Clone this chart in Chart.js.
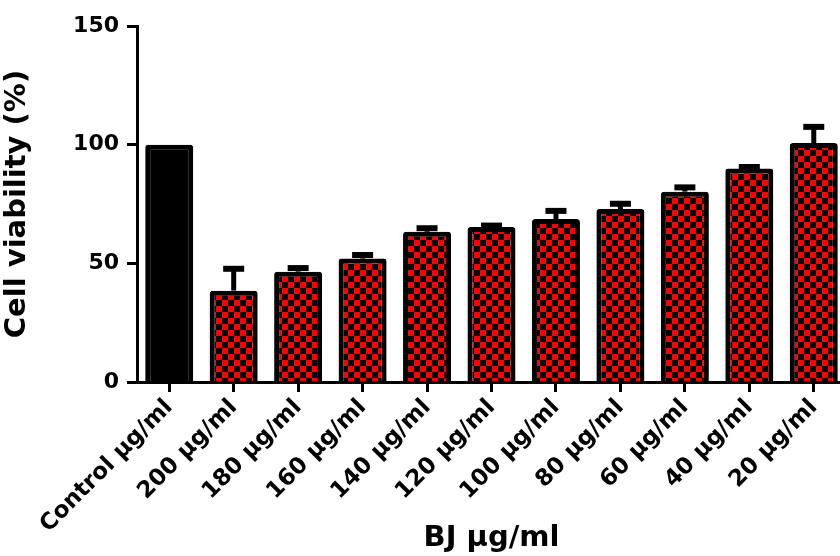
<!DOCTYPE html>
<html>
<head>
<meta charset="utf-8">
<script src="https://cdn.jsdelivr.net/npm/chart.js@4.4.1/dist/chart.umd.min.js"></script>
<style>
  html, body { margin: 0; padding: 0; background: #ffffff; overflow: hidden; }
  #wrap { width: 846px; height: 556px; position: relative; }
</style>
</head>
<body>
<div id="wrap"><canvas id="chart"></canvas></div>
<script>
// Treatment groups (BJ extract concentrations)
const categories = [
  'Control μg/ml', '200 μg/ml', '180 μg/ml', '160 μg/ml', '140 μg/ml',
  '120 μg/ml', '100 μg/ml', '80 μg/ml', '60 μg/ml', '40 μg/ml', '20 μg/ml'
];
// Mean cell viability (%) per group
const viability = [100, 38.5, 46.5, 52.0, 63.3, 65.3, 68.7, 72.9, 80.2, 90.0, 100.7];
// Upper error (SEM) per group
const sem = [0, 9.2, 1.5, 1.5, 1.5, 0.6, 3.4, 2.2, 1.8, 0.6, 6.8];
// Y-axis range and tick step
const yRange = [0, 150];
const yStep = 50;

const FONT = "'DejaVu Sans', 'Liberation Sans', Arial, sans-serif";

// Red/black checkerboard fill for the treated groups
function checkerPattern(size) {
  const c = document.createElement('canvas');
  c.width = size * 2;
  c.height = size * 2;
  const g = c.getContext('2d');
  g.fillStyle = '#ff0000';
  g.fillRect(0, 0, size * 2, size * 2);
  g.fillStyle = '#000000';
  g.fillRect(0, 0, size, size);
  g.fillRect(size, size, size, size);
  return g.createPattern(c, 'repeat');
}

const canvas = document.getElementById('chart');
const ctx = canvas.getContext('2d');
const checker = checkerPattern(6);
const fills = categories.map((_, i) => (i === 0 ? '#000000' : checker));

// Upward error bars with a flat cap
const errorBars = {
  id: 'errorBars',
  afterDatasetsDraw(chart) {
    const meta = chart.getDatasetMeta(0);
    const y = chart.scales.y;
    const c = chart.ctx;
    c.save();
    c.strokeStyle = '#000000';
    c.lineCap = 'butt';
    meta.data.forEach((bar, i) => {
      const e = sem[i];
      if (!e) return;
      const base = y.getPixelForValue(viability[i]);
      const top = y.getPixelForValue(viability[i] + e);
      c.lineWidth = 5;
      c.beginPath();
      c.moveTo(bar.x, base);
      c.lineTo(bar.x, top);
      c.stroke();
      c.lineWidth = 6;
      c.beginPath();
      c.moveTo(bar.x - 10.5, top);
      c.lineTo(bar.x + 10.5, top);
      c.stroke();
    });
    c.restore();
  }
};

new Chart(ctx, {
  type: 'bar',
  data: {
    labels: categories,
    datasets: [{
      data: viability,
      backgroundColor: fills,
      borderColor: '#000000',
      borderWidth: 5,
      borderRadius: 3,
      borderSkipped: 'start',
      barPercentage: 0.745,
      categoryPercentage: 1.0
    }]
  },
  options: {
    responsive: true,
    maintainAspectRatio: false,
    animation: false,
    devicePixelRatio: 1,
    layout: { padding: { top: 26, left: 0, right: 0, bottom: 0 } },
    plugins: {
      legend: { display: false },
      tooltip: { enabled: false }
    },
    scales: {
      x: {
        offset: true,
        grid: {
          offset: false,
          drawOnChartArea: false,
          drawTicks: true,
          tickLength: 10,
          tickWidth: 3,
          color: '#000000'
        },
        border: { display: true, color: '#000000', width: 3 },
        ticks: {
          autoSkip: false,
          minRotation: 45,
          maxRotation: 45,
          padding: 2,
          color: '#000000',
          font: { family: FONT, size: 23, weight: 'bold' }
        },
        title: {
          display: true,
          text: 'BJ μg/ml',
          color: '#000000',
          padding: { top: 0, bottom: 0 },
          font: { family: FONT, size: 29, weight: 'bold' }
        },
        afterFit(scale) { scale.height = 174; }
      },
      y: {
        min: yRange[0],
        max: yRange[1],
        grid: {
          drawOnChartArea: false,
          drawTicks: true,
          tickLength: 10,
          tickWidth: 3,
          color: '#000000'
        },
        border: { display: true, color: '#000000', width: 3 },
        ticks: {
          stepSize: yStep,
          padding: 8,
          color: '#000000',
          font: { family: FONT, size: 22, weight: 'bold' }
        },
        title: {
          display: true,
          text: 'Cell viability (%)',
          color: '#000000',
          padding: { top: 0, bottom: 4 },
          font: { family: FONT, size: 29, weight: 'bold' }
        },
        afterFit(scale) { scale.width = 137; }
      }
    }
  },
  plugins: [errorBars]
});
</script>
</body>
</html>
